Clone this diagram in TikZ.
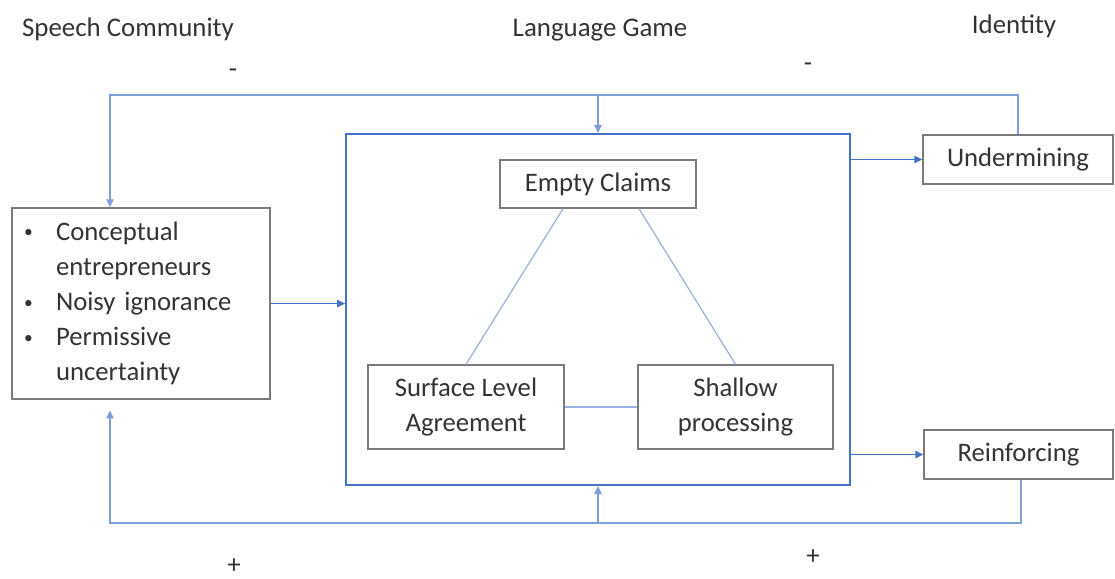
\documentclass[tikz,border=0pt]{standalone}
\usepackage{fontspec}
\setmainfont{Carlito}
\usetikzlibrary{arrows.meta,calc}
\definecolor{txtgray}{HTML}{333333}
\definecolor{boxgray}{HTML}{7A7A7A}
\definecolor{flowblue}{HTML}{4472C4}
\definecolor{loopblue}{HTML}{7E9FDA}
\definecolor{triblue}{HTML}{9AB2E0}
\newcommand\bodysize{\fontsize{15.2}{20}\selectfont}
\newcommand\headsize{\fontsize{15.3}{18}\selectfont}
\newcommand\bul{\makebox[0.66cm][l]{\hspace*{0.02cm}\raisebox{0.05cm}{\fontsize{10}{10}\selectfont\textbullet}}}
\begin{document}
\begin{tikzpicture}[x=0.02cm,y=-0.02cm,
  box/.style={draw=boxgray, line width=0.8pt, text=txtgray, font=\bodysize,
    inner sep=0pt, align=center},
  heading/.style={text=txtgray, font=\headsize, anchor=base, inner sep=0pt},
  sign/.style={text=txtgray, font=\headsize, inner sep=0pt},
  tip/.style={-{Triangle[length=4.5pt,width=4.2pt]}},
  flow/.style={draw=flowblue, line width=0.85pt},
  loopline/.style={draw=loopblue, line width=0.7pt},
  triline/.style={draw=triblue, line width=0.7pt}]
\useasboundingbox (0,0) rectangle (1115,578);

% column headings
\node[heading] (hs) at (128,36) {Speech Community};
\node[heading] (hl) at (600,36) {Language Game};
\node[heading] (hi) at (1014,33) {Identity};

% polarity of the two feedback loops
\node[sign] (s1) at (233,73) {-};
\node[sign] (s2) at (808,67) {-};
\node[sign] (s3) at (234,566) {+};
\node[sign] (s4) at (813,557) {+};

% speech community factors
\node[box, minimum width=5.16cm, minimum height=3.82cm, text width=4.72cm,
  align=left, inner xsep=0.22cm] (left) at (141,303.5)
  {\bul Conceptual\\
   \hspace*{0.66cm}entrepreneurs\\
   \bul Noisy ignorance\\
   \bul Permissive\\
   \hspace*{0.66cm}uncertainty};

% language game frame and its three elements
\node[draw=flowblue, line width=1.1pt, minimum width=10.08cm, minimum height=7.02cm,
  inner sep=0pt] (big) at (598,309.5) {};
\node[box, minimum width=3.92cm, minimum height=0.96cm] (empty) at (598,184) {Empty Claims};
\node[box, minimum width=3.92cm, minimum height=1.68cm] (surf) at (466,407) {Surface Level\\Agreement};
\node[box, minimum width=3.9cm, minimum height=1.68cm] (shal) at (735.5,407) {Shallow\\processing};

% identity outcomes
\node[box, minimum width=3.8cm, minimum height=0.98cm] (under) at (1018,159.5) {Undermining};
\node[box, minimum width=3.78cm, minimum height=0.98cm] (reinf) at (1018.5,454.5) {Reinforcing};

% triangle inside the language game
\draw[triline] ([xshift=-0.7cm]empty.south) -- (surf.north);
\draw[triline] ([xshift=0.82cm]empty.south) -- (shal.north);
\draw[triline] (surf.east) -- (shal.west);

% forward flow
\draw[flow,tip] (left.east) -- (left.east -| big.west);
\draw[flow,tip] (big.east |- under.west) -- (under.west);
\draw[flow,tip] (big.east |- reinf.west) -- (reinf.west);

% feedback loops
\coordinate (tl) at (110,95);
\coordinate (tm) at (598,95);
\coordinate (bl) at (110,523);
\coordinate (bm) at (598,523);
\draw[loopline,tip] (under.north) |- (tl) -- (tl |- left.north);
\draw[loopline,tip] (tm) -- (big.north);
\draw[loopline,tip,shorten >=6.2pt] ([xshift=0.05cm]reinf.south) |- (bl) -- (bl |- left.south);
\draw[loopline,tip] (bm) -- (big.south);
\end{tikzpicture}
\end{document}
